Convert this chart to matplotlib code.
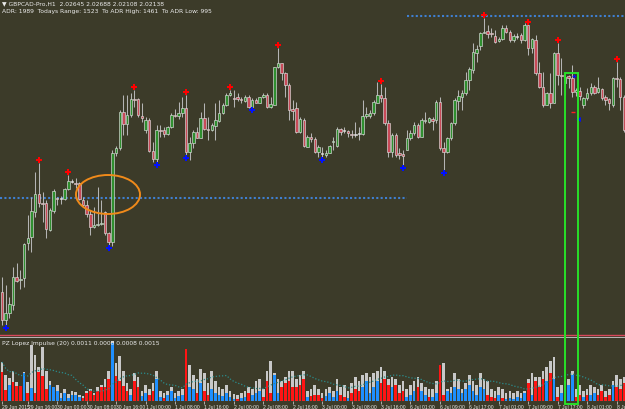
#!/usr/bin/env python3
"""GBPCAD H1 candlestick chart with fractal markers and an impulse histogram."""

import matplotlib

matplotlib.use("Agg")
import matplotlib.pyplot as plt
import pandas as pd
from matplotlib.patches import Ellipse, Rectangle

BG = "#3c3b29"
NARROW = ["Liberation Sans Narrow", "Liberation Sans", "DejaVu Sans"]

# H1 candles, price in pips above the chart floor
open_pips = [
    43, 15, 22, 30, 58, 55, 57, 92, 98, 123,
    141, 132, 132, 105, 124, 137, 136, 136, 146, 153,
    152, 152, 135, 130, 121, 108, 110, 111, 123, 102,
    93, 182, 187, 223, 211, 220, 236, 236, 219, 205,
    215, 184, 176, 205, 205, 201, 208, 220, 219, 222,
    227, 183, 192, 203, 197, 217, 206, 205, 209, 214,
    222, 230, 240, 237, 238, 236, 234, 238, 228, 235,
    232, 238, 240, 228, 230, 268, 272, 262, 250, 226,
    227, 203, 215, 188, 198, 196, 183, 181, 180, 182,
    193, 189, 206, 204, 204, 201, 200, 201, 201, 219,
    219, 222, 232, 240, 237, 212, 183, 200, 182, 181,
    185, 197, 202, 210, 198, 214, 213, 216, 215, 233,
    187, 183, 197, 212, 234, 238, 242, 255, 265, 282,
    289, 302, 304, 302, 299, 294, 296, 307, 303, 295,
    298, 300, 295, 310, 287, 295, 262, 248, 230, 242,
    232, 282, 260, 252, 259, 257, 243, 244, 230, 237,
    242, 248, 243, 246, 238, 236, 230, 257, 256, 238,
]
high_pips = [
    58, 50, 38, 68, 72, 65, 92, 120, 138, 163,
    172, 143, 135, 127, 146, 138, 139, 147, 160, 156,
    157, 153, 138, 135, 125, 128, 148, 135, 124, 103,
    185, 189, 225, 240, 240, 242, 245, 237, 232, 218,
    217, 193, 210, 210, 208, 209, 222, 226, 233, 238,
    240, 198, 205, 208, 223, 232, 218, 212, 232, 235,
    232, 242, 245, 245, 242, 238, 240, 240, 237, 237,
    238, 242, 242, 238, 268, 287, 272, 263, 252, 235,
    233, 218, 217, 200, 202, 198, 190, 188, 185, 190,
    198, 208, 207, 208, 205, 205, 213, 208, 235, 228,
    225, 235, 253, 251, 248, 215, 202, 202, 187, 185,
    205, 205, 213, 212, 217, 223, 218, 218, 235, 238,
    193, 198, 213, 237, 245, 245, 263, 268, 292, 290,
    303, 317, 310, 307, 305, 298, 310, 310, 305, 301,
    302, 302, 312, 310, 297, 300, 273, 263, 243, 262,
    283, 292, 277, 260, 260, 270, 247, 248, 238, 247,
    252, 250, 258, 247, 240, 237, 258, 273, 258, 240,
]
low_pips = [
    10, 10, 17, 25, 53, 46, 48, 85, 83, 118,
    128, 113, 97, 104, 122, 130, 131, 135, 145, 152,
    147, 135, 128, 118, 100, 107, 109, 110, 100, 90,
    89, 179, 185, 200, 200, 218, 228, 218, 213, 202,
    183, 173, 173, 198, 198, 200, 207, 218, 216, 218,
    180, 175, 187, 197, 197, 205, 195, 204, 195, 213,
    221, 229, 239, 228, 234, 232, 233, 227, 228, 232,
    232, 237, 227, 227, 230, 267, 255, 238, 215, 215,
    202, 202, 188, 188, 193, 182, 178, 178, 178, 182,
    185, 188, 200, 202, 198, 197, 198, 195, 200, 217,
    217, 220, 232, 233, 210, 178, 178, 178, 176, 170,
    185, 195, 200, 197, 198, 212, 212, 205, 212, 185,
    165, 182, 195, 210, 225, 225, 240, 245, 262, 273,
    285, 302, 297, 298, 292, 293, 295, 302, 293, 293,
    296, 292, 294, 280, 282, 260, 247, 228, 230, 227,
    232, 250, 240, 240, 247, 238, 239, 235, 227, 235,
    240, 241, 242, 235, 230, 225, 228, 248, 225, 203,
]
close_pips = [
    15, 22, 31, 58, 54, 56, 91, 97, 124, 141,
    132, 131, 106, 125, 144, 136, 136, 146, 154, 153,
    151, 136, 130, 121, 108, 110, 111, 112, 102, 93,
    182, 187, 223, 211, 220, 236, 235, 220, 217, 215,
    184, 176, 205, 204, 201, 208, 220, 219, 222, 227,
    183, 192, 203, 197, 217, 206, 205, 210, 215, 222,
    230, 240, 242, 236, 236, 235, 238, 228, 235, 232,
    238, 240, 228, 231, 268, 272, 262, 250, 225, 224,
    203, 216, 189, 198, 196, 183, 188, 181, 182, 189,
    194, 206, 203, 204, 202, 200, 200, 201, 219, 221,
    222, 233, 240, 237, 212, 183, 200, 180, 180, 179,
    197, 202, 210, 198, 215, 215, 217, 214, 233, 187,
    183, 197, 212, 235, 239, 242, 255, 266, 283, 286,
    302, 303, 301, 301, 293, 296, 307, 303, 295, 299,
    298, 295, 310, 287, 296, 262, 248, 230, 242, 232,
    282, 260, 259, 258, 257, 243, 245, 239, 237, 242,
    248, 242, 247, 237, 235, 232, 257, 256, 238, 205,
]

# fractal bars (1-based bar numbers)
up_fractals = [11, 19, 37, 51, 63, 76, 104, 132, 144, 152, 168]
down_fractals = [2, 30, 43, 51, 69, 88, 110, 121]

# horizontal levels (pips) and the bar where they start / stop
level_low, level_low_end = 137, 110
level_high, level_high_start = 319, 110

# impulse histogram: total height, directional part and direction
impulse_total = [
    39, 26, 23, 30, 19, 15, 29, 19, 56, 46,
    34, 54, 30, 20, 14, 16, 8, 12, 7, 10,
    9, 6, 5, 10, 12, 8, 14, 16, 22, 30,
    60, 38, 45, 30, 18, 12, 28, 24, 10, 16,
    12, 18, 30, 10, 8, 10, 14, 8, 10, 12,
    52, 36, 26, 22, 32, 28, 18, 30, 20, 14,
    12, 16, 10, 7, 6, 8, 10, 14, 12, 20,
    22, 12, 30, 40, 28, 22, 20, 24, 30, 30,
    22, 26, 30, 10, 12, 16, 12, 8, 12, 14,
    10, 22, 14, 16, 10, 18, 24, 20, 26, 28,
    24, 28, 30, 34, 30, 22, 24, 22, 16, 20,
    12, 16, 20, 24, 18, 14, 12, 12, 20, 36,
    38, 12, 14, 28, 22, 12, 18, 26, 20, 16,
    28, 22, 20, 12, 10, 14, 12, 8, 10, 8,
    10, 8, 10, 22, 28, 24, 24, 30, 34, 40,
    44, 14, 16, 20, 22, 30, 12, 16, 10, 12,
    16, 14, 12, 16, 10, 12, 20, 26, 22, 24,
]
impulse_part = [
    29, 11, 16, 19, 15, 15, 28, 8, 13, 8,
    29, 25, 12, 16, 14, 10, 3, 8, 3, 6,
    6, 4, 3, 8, 10, 6, 10, 14, 14, 22,
    58, 25, 20, 15, 10, 6, 20, 14, 5, 8,
    6, 10, 22, 4, 3, 6, 10, 3, 5, 6,
    52, 14, 12, 8, 18, 10, 6, 12, 8, 6,
    5, 8, 4, 2, 2, 3, 4, 8, 6, 8,
    10, 4, 20, 8, 26, 8, 14, 18, 20, 14,
    14, 16, 22, 4, 5, 6, 6, 3, 5, 8,
    4, 10, 6, 4, 3, 8, 12, 10, 14, 20,
    8, 14, 20, 18, 22, 16, 14, 16, 8, 10,
    4, 6, 10, 14, 10, 6, 4, 4, 8, 36,
    6, 10, 8, 14, 12, 8, 12, 16, 10, 6,
    14, 12, 6, 4, 3, 6, 3, 2, 3, 2,
    4, 3, 8, 18, 6, 20, 14, 22, 20, 28,
    22, 4, 8, 10, 16, 26, 4, 6, 4, 6,
    6, 8, 6, 10, 4, 6, 16, 14, 12, 18,
]
impulse_dir = (
    "rrbrrrbrbr" "rrrbbbbbbb" "bbrrrrrrrr" "brrrrbrrbb" "rrbbrbbbbb"
    "rbbrbrrbbb" "bbbbrbbrbb" "brrrbbrrrr" "rrrbrrrrbb" "bbrrbrrrbb"
    "bbbrrrbrrr" "bbbrbbrbbr" "rbbbbbbbbb" "bbrrrbrbbb" "bbbrbrrrbr"
    "brbbbbrrbr" "bbrrrrbrrr"
)

time_labels = [
    "29 Jun 2015", "29 Jun 16:00", "30 Jun 00:00", "30 Jun 08:00", "30 Jun 16:00",
    "1 Jul 00:00", "1 Jul 08:00", "1 Jul 16:00", "2 Jul 00:00", "2 Jul 08:00",
    "2 Jul 16:00", "3 Jul 00:00", "3 Jul 08:00", "3 Jul 16:00", "6 Jul 01:00",
    "6 Jul 09:00", "6 Jul 17:00", "7 Jul 01:00", "7 Jul 09:00", "7 Jul 17:00",
    "8 Jul 01:00", "8 Jul 09:00",
]
time_label_bars = [1, 8, 16, 24, 32, 40, 48, 56, 64, 72, 80, 88, 96, 104,
                   112, 120, 128, 136, 144, 152, 160, 168]


def main() -> None:
    n = len(close_pips)
    x = list(range(n))

    fig = plt.figure(figsize=(6.25, 4.09), dpi=100, facecolor=BG)
    ax = fig.add_axes([0, 71 / 409, 1, 338 / 409], facecolor=BG)
    axi = fig.add_axes([0, 8 / 409, 1, 62 / 409], facecolor=BG)

    for a in (ax, axi):
        a.set_xlim(-0.55, 169.3)
        for s in a.spines.values():
            s.set_visible(False)
        a.set_yticks([])
    ax.set_xticks([])
    ax.set_ylim(-3, 335)

    # candles
    ax.vlines(x, low_pips, high_pips, color="#b4b4b4", lw=0.75, zorder=2)
    for i in range(n):
        o, c = open_pips[i], close_pips[i]
        bottom = min(o, c)
        height = max(abs(c - o), 0.8)
        face = "#2f8f2f" if c > o else ("#c84a58" if c < o else "#dcdcdc")
        ax.bar(i, height, bottom=bottom, width=0.68, color=face,
               edgecolor="#dedede", linewidth=0.45, zorder=3)

    # fractals
    ax.plot([b - 1 for b in up_fractals], [high_pips[b - 1] + 3 for b in up_fractals],
            "P", color="#ff0000", ms=4.2, mew=0, zorder=5)
    ax.plot([b - 1 for b in down_fractals], [low_pips[b - 1] - 3 for b in down_fractals],
            "P", color="#0010ff", ms=4.2, mew=0, zorder=5)

    # levels
    ax.hlines(level_low, -0.55, level_low_end, color="#3f7fd0", lw=1.5,
              linestyles=(0, (1, 1.1)), zorder=1)
    ax.hlines(level_high, level_high_start, 169.3, color="#3f7fd0", lw=1.5,
              linestyles=(0, (1, 1.1)), zorder=1)

    # orange ellipse
    ax.add_patch(Ellipse((28.8, 140.5), 17.4, 39, fill=False, edgecolor="#f08a1a",
                         lw=1.4, zorder=6))

    # trade markers near the last swing
    ax.plot([155.4], [259.5], "P", color="#0010ff", ms=2.6, mew=0, zorder=6)
    ax.plot([155.2], [223], "_", color="#ff2020", ms=3, mew=1, zorder=6)
    ax.plot([156.6], [216.5], "<", color="#0010ff", ms=3.5, mew=0, zorder=6)

    # window separator
    ax.axhline(0, color="#d8485c", lw=1.0, zorder=1)
    ax.axhline(-3, color="#b8b8b8", lw=1.4, zorder=1)

    # impulse histogram
    axi.set_ylim(0, 62)
    axi.bar(x, impulse_total, width=0.72, color="#c8c8c8", zorder=2)
    part_colors = ["#ff1414" if d == "r" else "#1e8fff" for d in impulse_dir]
    axi.bar(x, impulse_part, width=0.72, color=part_colors, zorder=3)
    ma = pd.Series(impulse_total).rolling(12, min_periods=1).mean()
    axi.plot(x, ma, color="#2a8c8c", lw=0.9, ls=(0, (1, 1.5)), zorder=4)
    axi.axhline(0, color="#c0c0c0", lw=0.8, zorder=5)

    axi.set_xticks([b - 1 for b in time_label_bars])
    axi.set_xticklabels(time_labels, fontsize=3.6, color="#e8e8e8", ha="left",
                        family=NARROW)
    axi.tick_params(axis="x", length=2.2, width=0.6, color="#c0c0c0", pad=0.5)

    # green selection box across both panes
    fig.add_artist(Rectangle((153.0, -69), 3.5, 331, transform=ax.transData,
                             fill=False, edgecolor="#28e028", lw=1.4, zorder=10))

    txt = dict(fontsize=4.3, color="#ececec", ha="left", va="center")
    fig.text(2 / 625, 1 - 3.5 / 409,
             "\u25bc GBPCAD-Pro,H1  2.02645 2.02688 2.02108 2.02138", **txt)
    fig.text(2 / 625, 1 - 11 / 409,
             "ADR: 1989  Todays Range: 1523  To ADR High: 1461  To ADR Low: 995", **txt)
    fig.text(2 / 625, 1 - 343.5 / 409,
             "PZ Lopez Impulse (20) 0.0011 0.0000 0.0008 0.0015", **txt)

    fig.savefig("out.png", dpi=100, facecolor=BG)
    plt.close(fig)


if __name__ == "__main__":
    main()
